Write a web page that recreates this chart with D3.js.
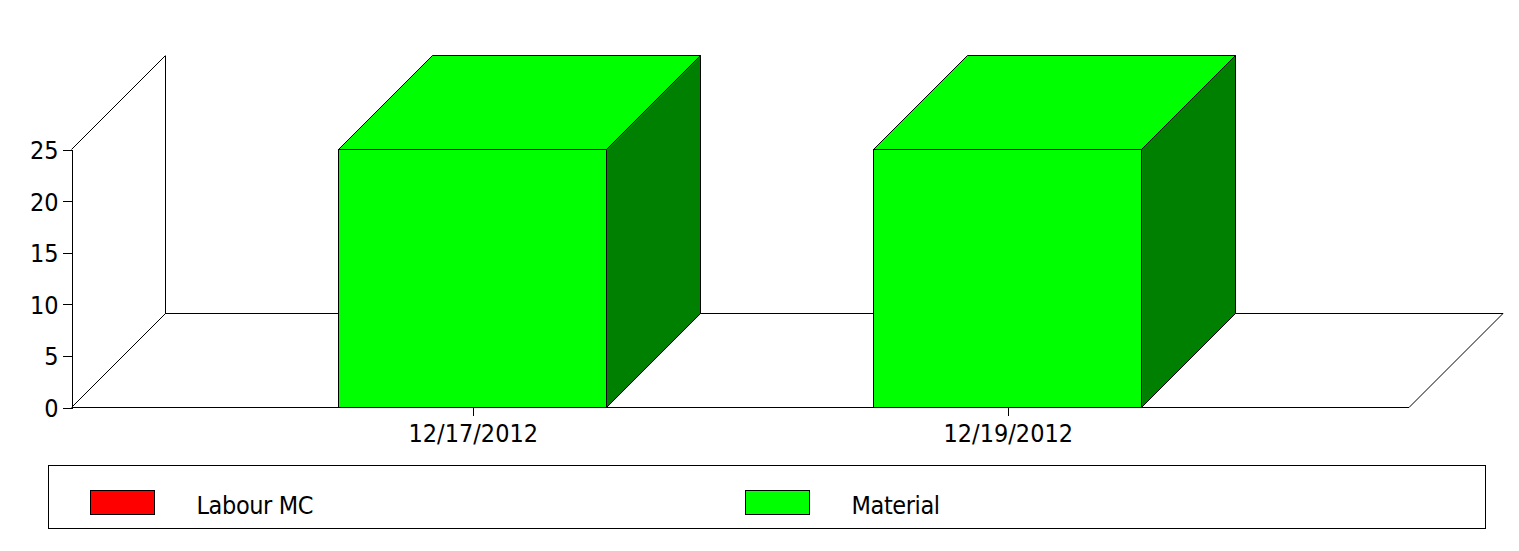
<!DOCTYPE html>
<html>
<head>
<meta charset="utf-8">
<script src="https://cdn.jsdelivr.net/npm/d3@7"></script>
<style>
  html, body { margin: 0; padding: 0; background: #fff; }
  svg { display: block; }
  text { font-family: "DejaVu Sans Condensed", "DejaVu Sans", sans-serif; font-stretch: condensed; fill: #000; }
</style>
</head>
<body>
<svg id="chart" width="1519" height="551"></svg>
<script>
// ---- data ----
const categories = ["12/17/2012", "12/19/2012"];
const seriesNames = ["Labour MC", "Material"];
const labourValues = [0, 0];
const materialValues = [25, 25];
const yTicks = [0, 5, 10, 15, 20, 25];

// ---- styles ----
const frontColors = ["#ff0000", "#00ff00"];
const sideColors = ["#800000", "#008000"];
const topColors = ["#ff0000", "#00ff00"];

(function () {
const svg = d3.select("#chart");
const plotLeft = 71.5, plotRight = 1409, plotBottom = 407.5, plotTop = 149.5;
const depth = 94;
const fontSize = 25;

const x = d3.scalePoint().domain(categories).range([plotLeft, plotRight]).padding(0.75);
const y = d3.scaleLinear().domain([0, 25]).range([plotBottom, plotTop]);
const barW = Math.round(x.step() * 0.5) - 0.5;

const g = svg.append("g");
const line = (pts) => "M" + pts.map(p => p.join(",")).join("L");
const seg = (pts, crisp) => {
  const p = g.append("path").attr("d", line(pts)).attr("stroke", "#000").attr("stroke-width", 1).attr("fill", "none");
  if (crisp) p.attr("shape-rendering", "crispEdges");
};

// left side wall edges
seg([[plotLeft, y(25)], [plotLeft + depth, y(25) - depth]]);
seg([[plotLeft + depth, y(25) - depth], [plotLeft + depth, plotBottom - depth]], true);
seg([[plotLeft, plotBottom], [plotLeft + depth, plotBottom - depth]]);
// floor back edge and right edge
seg([[plotLeft + depth, plotBottom - depth], [plotRight + depth, plotBottom - depth]], true);
seg([[plotRight, plotBottom], [plotRight + depth, plotBottom - depth]]);

// bars (stacked)
const stackData = categories.map((c, i) => ({ cat: c, vals: [labourValues[i], materialValues[i]] }));
const barsG = svg.append("g");
stackData.forEach(d => {
  let base = 0;
  d.vals.forEach((v, si) => {
    const y0 = y(base), y1 = y(base + v);
    base += v;
    if (v <= 0) return;
    const x0 = Math.floor(x(d.cat) - x.step() * 0.25) - 0.5, x1 = x0 + barW + 0.5;
    const bg = barsG.append("g").attr("stroke", "#000").attr("stroke-width", 1).attr("stroke-linejoin", "miter");
    bg.append("path").attr("fill", sideColors[si])
      .attr("d", line([[x1, y0], [x1 + depth, y0 - depth], [x1 + depth, y1 - depth], [x1, y1]]) + "Z");
    bg.append("path").attr("fill", topColors[si])
      .attr("d", line([[x0, y1], [x0 + depth, y1 - depth], [x1 + depth, y1 - depth], [x1, y1]]) + "Z");
    bg.append("rect").attr("fill", frontColors[si])
      .attr("x", x0).attr("y", y1).attr("width", x1 - x0).attr("height", y0 - y1)
      .attr("shape-rendering", "crispEdges");
  });
});

// y axis
const yAxisG = svg.append("g").attr("transform", `translate(${plotLeft},0)`)
  .call(d3.axisLeft(y).tickValues(yTicks).tickSize(9).tickPadding(4).tickFormat(d3.format("d")));
yAxisG.select(".domain").attr("stroke", "#000").attr("shape-rendering", "crispEdges");
yAxisG.selectAll(".tick line").attr("stroke", "#000").attr("shape-rendering", "crispEdges");
yAxisG.selectAll("text").attr("font-size", fontSize).attr("fill", "#000").attr("dy", "0.36em");
yAxisG.attr("font-family", null).attr("font-size", null);

// x axis
const xAxisG = svg.append("g").attr("transform", `translate(0,${plotBottom})`)
  .call(d3.axisBottom(x).tickSize(8).tickPadding(9).tickSizeOuter(0));
xAxisG.select(".domain").attr("d", `M${plotLeft},0H${plotRight}`).attr("stroke", "#000").attr("shape-rendering", "crispEdges");
xAxisG.selectAll(".tick line").attr("stroke", "#000").attr("shape-rendering", "crispEdges");
xAxisG.selectAll("text").attr("font-size", fontSize).attr("fill", "#000");
xAxisG.attr("font-family", null).attr("font-size", null);
xAxisG.select(".domain").raise();

// legend
const legend = svg.append("g");
legend.append("rect").attr("x", 48.5).attr("y", 465.5).attr("width", 1437).attr("height", 63)
  .attr("fill", "none").attr("stroke", "#000").attr("shape-rendering", "crispEdges");
seriesNames.forEach((name, i) => {
  const lx = 90.5 + i * 655;
  legend.append("rect").attr("x", lx).attr("y", 490.5).attr("width", 64).attr("height", 24)
    .attr("fill", frontColors[i]).attr("stroke", "#000").attr("shape-rendering", "crispEdges");
  legend.append("text").attr("x", lx + 106).attr("y", 514).attr("font-size", fontSize)
    .attr("letter-spacing", "-0.4px").text(name);
});
})();
</script>
</body>
</html>
